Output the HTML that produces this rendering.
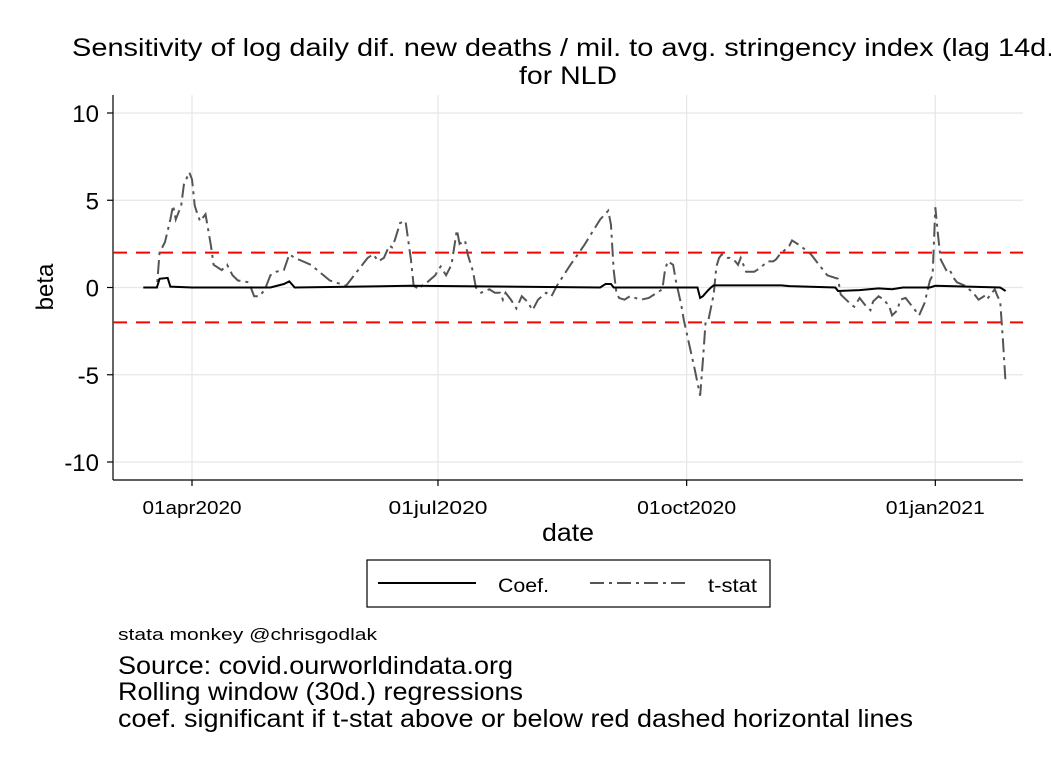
<!DOCTYPE html>
<html><head><meta charset="utf-8"><style>
body{margin:0;background:#fff;font-family:"Liberation Sans",Arial,sans-serif;}
svg text{font-family:"Liberation Sans",Arial,sans-serif;}
</style></head><body>
<svg id="chart" width="1051" height="765" xmlns="http://www.w3.org/2000/svg">
<rect width="1051" height="765" fill="#fff"/>
<text x="72" y="56" font-size="25" textLength="992" lengthAdjust="spacingAndGlyphs">Sensitivity of log daily dif. new deaths / mil. to avg. stringency index (lag 14d.)</text>
<text x="519" y="84" font-size="25" textLength="98" lengthAdjust="spacingAndGlyphs">for NLD</text>
<g id="grid"></g>
<g id="axes"></g>
<g id="marks"></g>
<text x="53" y="287" font-size="24" text-anchor="middle" transform="rotate(-90 53 287)">beta</text>
<text x="542" y="541" font-size="25" textLength="52" lengthAdjust="spacingAndGlyphs">date</text>
<g>
<rect x="367" y="560" width="403" height="47" fill="#fff" stroke="#000" stroke-width="1.2"/>
<line x1="378" y1="583" x2="476" y2="583" stroke="#000" stroke-width="2"/>
<text x="498" y="592" font-size="19" textLength="51" lengthAdjust="spacingAndGlyphs">Coef.</text>
<line x1="590" y1="583" x2="688" y2="583" stroke="#555" stroke-width="2" stroke-dasharray="14 5 3 5"/>
<text x="708" y="592" font-size="19" textLength="49" lengthAdjust="spacingAndGlyphs">t-stat</text>
</g>
<text x="118" y="640" font-size="17" textLength="259" lengthAdjust="spacingAndGlyphs">stata monkey @chrisgodlak</text>
<text x="118" y="674" font-size="25" textLength="395" lengthAdjust="spacingAndGlyphs">Source: covid.ourworldindata.org</text>
<text x="118" y="700" font-size="25" textLength="405" lengthAdjust="spacingAndGlyphs">Rolling window (30d.) regressions</text>
<text x="118" y="727" font-size="25" textLength="795" lengthAdjust="spacingAndGlyphs">coef. significant if t-stat above or below red dashed horizontal lines</text>
</svg>
<script>
// days relative to 01apr2020
const tDays=[-18,-13,-12,-10,-8,-7,-6,-4,-3,-1,0,1,2,3,5,7,8,9,11,13,15,17,21,23,25,27,29,31,34,36,38,44,51,57,58,61,63,65,67,69,71,73,74,75,77,79,81,82,84,85,87,90,91,92,94,96,98,99,101,102,104,105,107,110,112,114,115,116,118,120,122,124,126,128,131,133,135,140,145,151,154,155,156,157,158,160,162,166,169,172,174,175,176,178,179,181,182,184,186,188,189,190,191,193,194,195,196,198,199,201,202,203,205,208,210,213,215,216,218,219,221,222,225,229,232,235,239,240,242,244,245,247,249,251,252,254,256,258,259,261,262,264,266,269,271,273,274,275,276,277,279,280,282,283,286,289,291,293,294,297,298,299,300,301];
const tVals=[0,0,2.0,2.6,3.9,4.7,3.9,4.7,5.9,6.6,6.2,4.7,4.2,3.8,4.2,2.4,1.3,1.2,1.0,1.3,0.7,0.4,0.3,-0.5,-0.5,-0.1,0.7,0.9,1.0,1.9,1.7,1.3,0.4,0.1,0.3,0.9,1.3,1.7,1.9,1.5,1.7,2.4,2.3,2.7,3.7,3.8,1.6,0.1,-0.1,0.1,0.3,0.7,1.0,1.2,0.7,1.3,3.3,2.5,2.7,1.9,0.9,0,-0.3,-0.1,-0.3,-0.3,-0.7,-0.3,-0.7,-1.2,-0.5,-0.8,-1.3,-0.7,-0.3,-0.5,0.1,1.3,2.4,3.9,4.4,3.6,1.0,-0.3,-0.6,-0.7,-0.5,-0.7,-0.6,-0.3,-0.1,1.0,1.5,1.3,0.4,-1.0,-1.9,-3.3,-4.7,-6.2,-4.2,-2.0,-1.9,-0.4,1.2,1.7,1.9,1.7,1.7,1.5,1.3,1.7,0.9,0.9,1.1,1.5,1.5,1.6,2.0,2.1,2.4,2.7,2.4,1.9,1.3,0.7,0.5,-0.4,-0.7,-1.0,-1.1,-0.6,-1.0,-1.3,-0.8,-0.5,-0.7,-1.1,-1.6,-1.3,-0.7,-0.6,-1.0,-1.6,-0.9,0.4,0.7,4.6,3.0,1.6,1.0,1.1,0.5,0.3,0.1,-0.3,-0.7,-0.5,-0.7,-0.1,-0.5,-0.8,-3.0,-5.5];
const cDays=[-18,-13,-12,-9,-8,0,29,34,36,38,81,151,153,155,156,187,188,189,191,192,193,218,221,238,239,247,254,259,263,273,275,299,301];
const cVals=[0,0,0.5,0.55,0.05,0,0,0.2,0.35,0,0.1,0,0.2,0.2,0,0,-0.6,-0.5,-0.15,0,0.12,0.12,0.08,0,-0.2,-0.15,-0.05,-0.1,0,0,0.1,0,-0.2];
const yTicks=[-10,-5,0,5,10];
const yTickLabels=["-10","-5","0","5","10"];
const xTicks=[0,91,183,275];
const xTickLabels=["01apr2020","01jul2020","01oct2020","01jan2021"];
const sigBands=[2,-2];

const NS="http://www.w3.org/2000/svg";
const X0=113,X1=1023,Y0=480;
const xs=d=>192+d*2.703;
const ys=v=>287.5-v*17.45;
function mk(tag,attrs,parent){const e=document.createElementNS(NS,tag);for(const k in attrs)e.setAttribute(k,attrs[k]);parent.appendChild(e);return e;}
const grid=document.getElementById('grid'),axes=document.getElementById('axes'),marks=document.getElementById('marks');
yTicks.forEach((v,i)=>{
  const g=mk('line',{x1:X0,x2:X1,y1:ys(v),y2:ys(v),stroke:'#e6e6e6','stroke-width':1.2},grid);
  
  
  const t=mk('line',{x1:X0-6,x2:X0,y1:ys(v),y2:ys(v),stroke:'#000','stroke-width':1.2},axes);
  
  
  const l=mk('text',{x:99,y:ys(v)+9,'font-size':24,'text-anchor':'end'},axes);
  l.textContent=yTickLabels[i];
  
  
});
xTicks.forEach((d,i)=>{
  const g=mk('line',{x1:xs(d),x2:xs(d),y1:95,y2:Y0,stroke:'#e6e6e6','stroke-width':1.2},grid);
  
  
  const t=mk('line',{x1:xs(d),x2:xs(d),y1:Y0,y2:Y0+6,stroke:'#000','stroke-width':1.2},axes);
  
  
  const l=mk('text',{x:xs(d)-49.5,y:514,'font-size':18,textLength:99,lengthAdjust:'spacingAndGlyphs'},axes);
  l.textContent=xTickLabels[i];
  
  
});
const ya=mk('line',{x1:X0,x2:X0,y1:95,y2:Y0,stroke:'#000','stroke-width':1.2},axes);


const xa=mk('line',{x1:X0,x2:X1,y1:Y0,y2:Y0,stroke:'#000','stroke-width':1.2},axes);


sigBands.forEach(v=>{
  const r=mk('line',{x1:X0,x2:X1,y1:ys(v),y2:ys(v),stroke:'#f00','stroke-width':2,'stroke-dasharray':'14 9'},marks);
  
  
});
const tp=mk('polyline',{points:tDays.map((d,i)=>xs(d)+','+ys(tVals[i])).join(' '),fill:'none',stroke:'#555','stroke-width':2,'stroke-dasharray':'14 5 3 5'},marks);


const cp=mk('polyline',{points:cDays.map((d,i)=>xs(d)+','+ys(cVals[i])).join(' '),fill:'none',stroke:'#000','stroke-width':2},marks);


</script>
</body></html>
